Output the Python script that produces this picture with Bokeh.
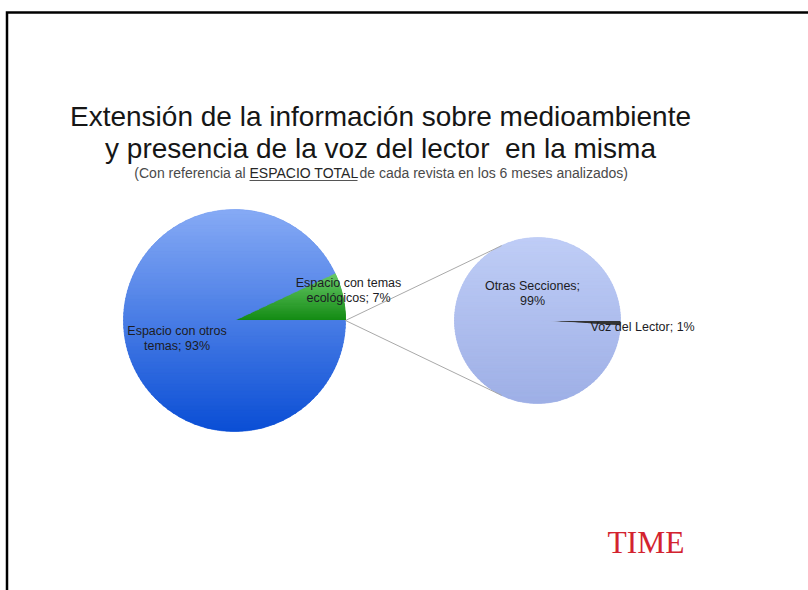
import textwrap
import numpy as np
from bokeh.plotting import figure
from bokeh.models import Range1d, Label
from bokeh.embed import file_html
from bokeh.resources import INLINE
from bokeh.core.properties import value

# ---------------- data ----------------
main_categories = ["Espacio con temas ecológicos", "Espacio con otros temas"]
main_values = [7, 93]
detail_categories = ["Voz del Lector", "Otras Secciones"]
detail_values = [1, 99]

title_lines = ["Extensión de la información sobre medioambiente",
               "y presencia de la voz del lector\u00a0 en la misma"]
subtitle_parts = ["(Con referencia al ", "ESPACIO TOTAL",
                  " de cada revista en los 6 meses analizados)"]
brand = "TIME"

# ---------------- layout / style ----------------
W, H = 808, 590
FONT = "Liberation Sans"
main_center = (234.0, 270.0)
main_radius = 111.0
detail_center = (537.0, 270.0)
detail_radius = 83.0

main_top = ["#68c868", "#86aaf5"]
main_bottom = ["#138a13", "#0a4ed5"]
detail_top = ["#333333", "#bfcdf6"]
detail_bottom = ["#333333", "#9eafe6"]

main_label_offsets = [(114, 37.4), (-57.5, -10.6)]
main_label_align = ["center", "center"]
main_wrap = [17, 17]
detail_label_offsets = [(53, -6.6), (-5, 34.4)]
detail_label_align = ["left", "center"]
detail_wrap = [40, 16]
LINE_H = 15
LABEL_COLOR = "#1c1c24"

FRAME_X, FRAME_Y = 6.5, 578


def hex2rgb(h):
    h = h.lstrip("#")
    return np.array([int(h[i:i + 2], 16) for i in (0, 2, 4)], dtype=float)


def lerp_color(c0, c1, t):
    a, b = hex2rgb(c0), hex2rgb(c1)
    c = a + (b - a) * t
    return "#%02x%02x%02x" % tuple(int(round(v)) for v in c)


def clip_half(poly, y, keep_above):
    out = []
    n = len(poly)
    for i in range(n):
        P = poly[i]
        Q = poly[(i + 1) % n]
        pin = P[1] >= y if keep_above else P[1] <= y
        qin = Q[1] >= y if keep_above else Q[1] <= y
        if pin:
            out.append(P)
        if pin != qin:
            t = (y - P[1]) / (Q[1] - P[1])
            out.append((P[0] + t * (Q[0] - P[0]), y))
    return out


def draw_pie(p, center, r, values, start, tops, bottoms):
    cx, cy = center
    vals = np.array(values, dtype=float)
    fr = vals / vals.sum()
    ends = start + np.cumsum(fr) * 2 * np.pi
    starts = ends - fr * 2 * np.pi
    mids = [lerp_color(b, t, 0.5) for t, b in zip(tops, bottoms)]
    p.wedge(x=[cx] * len(vals), y=[cy] * len(vals), radius=r,
            start_angle=list(starts), end_angle=list(ends),
            fill_color=mids, line_color=None)
    # vertical gradient shading of each slice
    for a0, a1, ct, cb in zip(starts, ends, tops, bottoms):
        if ct == cb:
            continue
        n = max(8, int(np.degrees(a1 - a0) * 2))
        ang = np.linspace(a0, a1, n)
        poly = [(cx, cy)] + [(cx + r * np.cos(a), cy + r * np.sin(a)) for a in ang]
        ys = [q[1] for q in poly]
        ymin, ymax = min(ys), max(ys)
        N = 60
        h = (ymax - ymin) / N
        xs_l, ys_l, cols = [], [], []
        for k in range(N):
            y0 = ymin + k * h - 0.4
            y1 = ymin + (k + 1) * h + 0.4
            sub = clip_half(poly, y0, True)
            if len(sub) < 3:
                continue
            sub = clip_half(sub, y1, False)
            if len(sub) < 3:
                continue
            xs_l.append([q[0] for q in sub])
            ys_l.append([q[1] for q in sub])
            cols.append(lerp_color(cb, ct, (k + 0.5) / N))
        p.patches(xs=xs_l, ys=ys_l, fill_color=cols, line_color=cols, line_width=0.6)
    return starts, ends


def draw_labels(p, center, cats, vals, offsets, aligns, wraps):
    cx, cy = center
    for cat, v, (dx, dy), al, w in zip(cats, vals, offsets, aligns, wraps):
        lines = textwrap.wrap(f"{cat}; {v}%", width=w)
        p.text(x=[cx + dx] * len(lines),
               y=[cy + dy - i * LINE_H for i in range(len(lines))],
               text=lines, text_align=al, text_baseline="middle",
               text_font=value(FONT), text_font_size="12.5px",
               text_color=LABEL_COLOR)


p = figure(width=W, height=H, x_range=Range1d(0, W), y_range=Range1d(0, H),
           output_backend="svg", toolbar_location=None, min_border=0,
           x_axis_type=None, y_axis_type=None)
p.grid.visible = False
p.outline_line_color = None
p.background_fill_color = "white"
p.border_fill_color = "white"

# frame lines (top and left edges of the slide)
p.line(x=[FRAME_X, FRAME_X, W], y=[0, FRAME_Y, FRAME_Y],
       line_color="black", line_width=2.5, line_join="miter")

# pies
draw_pie(p, main_center, main_radius, main_values, 0.0, main_top, main_bottom)
det_start = -detail_values[0] / sum(detail_values) * 2 * np.pi
draw_pie(p, detail_center, detail_radius, detail_values, det_start, detail_top, detail_bottom)

# connector lines: from start of the ecological slice to tangent points of detail pie
ax, ay = main_center[0] + main_radius, main_center[1]
dcx, dcy = detail_center
d = np.hypot(dcx - ax, dcy - ay)
base = np.arctan2(ay - dcy, ax - dcx)
th = np.arccos(detail_radius / d)
t1 = (dcx + detail_radius * np.cos(base - th), dcy + detail_radius * np.sin(base - th))
t2 = (dcx + detail_radius * np.cos(base + th), dcy + detail_radius * np.sin(base + th))
p.segment(x0=[ax, ax], y0=[ay, ay], x1=[t1[0], t2[0]], y1=[t1[1], t2[1]],
          line_color="#a9a9a9", line_width=1)

# labels
draw_labels(p, main_center, main_categories, main_values,
            main_label_offsets, main_label_align, main_wrap)
draw_labels(p, detail_center, detail_categories, detail_values,
            detail_label_offsets, detail_label_align, detail_wrap)

# title
TITLE_X = 380
for i, line in enumerate(title_lines):
    p.add_layout(Label(x=TITLE_X, y=474 - i * 32, text=line, text_align="center",
                       text_baseline="middle", text_font=FONT,
                       text_font_size="28px", text_color="#161616"))

# subtitle with underlined middle part
SUB_Y = 418
SUB_X = 249
SUB_MID_W = 110
p.add_layout(Label(x=SUB_X, y=SUB_Y, text=subtitle_parts[0], text_align="right",
                   text_baseline="middle", text_font=FONT, text_font_size="14px",
                   text_color="#4a4a4a"))
p.add_layout(Label(x=SUB_X, y=SUB_Y, text=subtitle_parts[1], text_align="left",
                   text_baseline="middle", text_font=FONT, text_font_size="14px",
                   text_color="#262626"))
p.add_layout(Label(x=SUB_X + SUB_MID_W, y=SUB_Y, text=subtitle_parts[2], text_align="left",
                   text_baseline="middle", text_font=FONT, text_font_size="14px",
                   text_color="#4a4a4a"))
p.segment(x0=[SUB_X], y0=[410], x1=[SUB_X + SUB_MID_W - 2], y1=[410],
          line_color="#555555", line_width=1.2)

# brand
p.add_layout(Label(x=607, y=48, text=brand, text_align="left", text_baseline="middle",
                   text_font="Liberation Serif", text_font_size="31.5px",
                   text_color="#d3232f"))

open("out.html", "w").write(file_html(p, INLINE))
